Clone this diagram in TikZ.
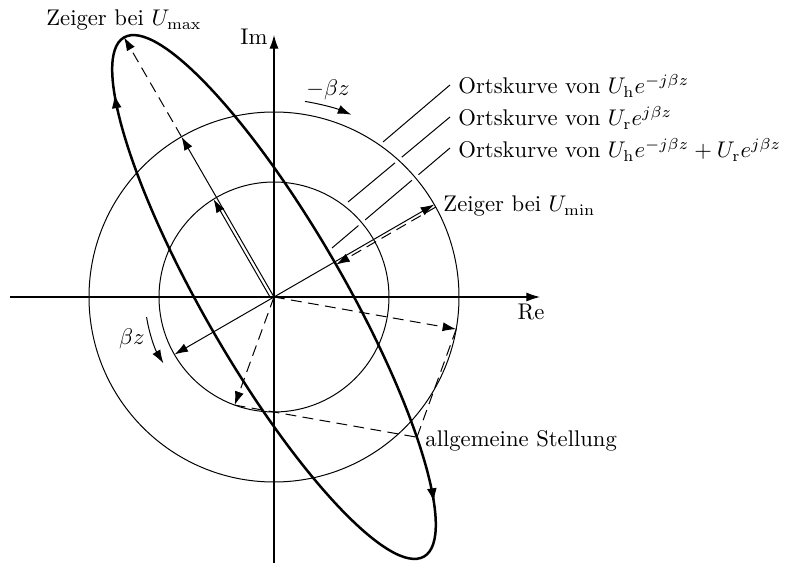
\documentclass[tikz,border=0pt]{standalone}
\usetikzlibrary{arrows.meta,decorations.markings,calc}
\begin{document}
\begin{tikzpicture}[scale=0.0155,
  tip/.style={-{Latex[length=6pt,width=4pt]}},
  axis/.style={line width=0.5pt, tip},
  vec/.style={line width=0.44pt, tip},
  dvec/.style={vec, dash pattern=on 4.8pt off 2.8pt},
  dline/.style={line width=0.44pt, dash pattern=on 4.8pt off 2.8pt},
  circ/.style={line width=0.44pt},
  leader/.style={line width=0.44pt},
  halo/.style={white, line width=3.7pt},
  locus/.style={line width=1.1pt},
  lbl/.style={inner sep=0pt}]
\useasboundingbox (-274,-268) rectangle (514,297);
% named points
\coordinate (O) at (0,0);
\coordinate (Hmax) at (120:185);
\coordinate (Umax) at (120:300);
\coordinate (Rs0) at (-4,0);
\coordinate (Rs1) at ($(-4,0)+(120:113)$);
\coordinate (Hmin) at (30:185);
\coordinate (Rmin) at (210:115);
\coordinate (Pmin) at (30:70);
\coordinate (Hg) at (-10:185);
\coordinate (Rg) at (-110:115);
\coordinate (Pg) at (142.9,-140.2);
\coordinate (LA1) at (109,155);
\coordinate (LA2) at (176,212);
\coordinate (LB1) at (74,95);
\coordinate (LB2) at (176,180);
\coordinate (LC1) at (58,49);
\coordinate (LC2) at (176,149);
% leader lines (broken where they cross the circles)
\draw[leader] (LA1) -- (LA2);
\draw[leader] (LB1) -- (LB2);
\draw[leader] (LC1) -- (LC2);
\draw[halo] (35:185) arc[start angle=35, end angle=51, radius=185];
\draw[halo] (35:115) arc[start angle=35, end angle=46, radius=115];
% circles
\draw[circ] (O) circle[radius=185];
\draw[circ] (O) circle[radius=115];
% axes
\draw[axis] (-264,0) -- (266,0);
\draw[axis] (0,-266) -- (0,262);
\node[lbl, anchor=base east] (im) at (-6,252) {Im};
\node[lbl, anchor=base] (re) at (257,-23) {Re};
% locus ellipse
\draw[locus, rotate=120, postaction=decorate,
  decoration={markings,
    mark=at position 0.203 with {\arrow{Latex[length=6.4pt,width=4.4pt]}},
    mark=at position 0.705 with {\arrow{Latex[length=6.4pt,width=4.4pt]}}}]
  (0,70) arc[start angle=90, end angle=-270, x radius=300, y radius=70];
% Umax
\draw[vec] (O) -- (Hmax);
\draw[vec] (Rs0) -- (Rs1);
\draw[dvec] (Hmax) -- (Umax);
% Umin
\draw[vec] (O) -- (Hmin);
\draw[vec] (O) -- (Rmin);
\draw[dvec] ($(Hmin)+(-60:3)$) -- ($(Pmin)+(-60:3)$);
% general position
\draw[dvec] (O) -- (Hg);
\draw[dvec] (O) -- (Rg);
\draw[dline] (Hg) -- (Pg);
\draw[dline] (Rg) -- (Pg);
% rotation arrows
\draw[vec] (81:198) arc[start angle=81, end angle=67, radius=198];
\node[lbl] (mbz) at (54,207) {$-\beta z$};
\draw[vec] (189:129) arc[start angle=189, end angle=211, radius=129];
\node[lbl] (bz) at (-142,-42) {$\beta z$};
% labels
\node[lbl, anchor=base] (lmax) at (-150,271) {Zeiger bei $U_\mathrm{max}$};
\node[lbl, anchor=base west] (lmin) at (169,85) {Zeiger bei $U_\mathrm{min}$};
\node[lbl, anchor=base west] (lg) at (151,-150) {allgemeine Stellung};
\node[lbl, anchor=base west] (oa) at (184,203) {Ortskurve von $U_\mathrm{h}e^{-j\beta z}$};
\node[lbl, anchor=base west] (ob) at (184,171) {Ortskurve von $U_\mathrm{r}e^{j\beta z}$};
\node[lbl, anchor=base west] (oc) at (184,139) {Ortskurve von $U_\mathrm{h}e^{-j\beta z}+U_\mathrm{r}e^{j\beta z}$};
\end{tikzpicture}
\end{document}
